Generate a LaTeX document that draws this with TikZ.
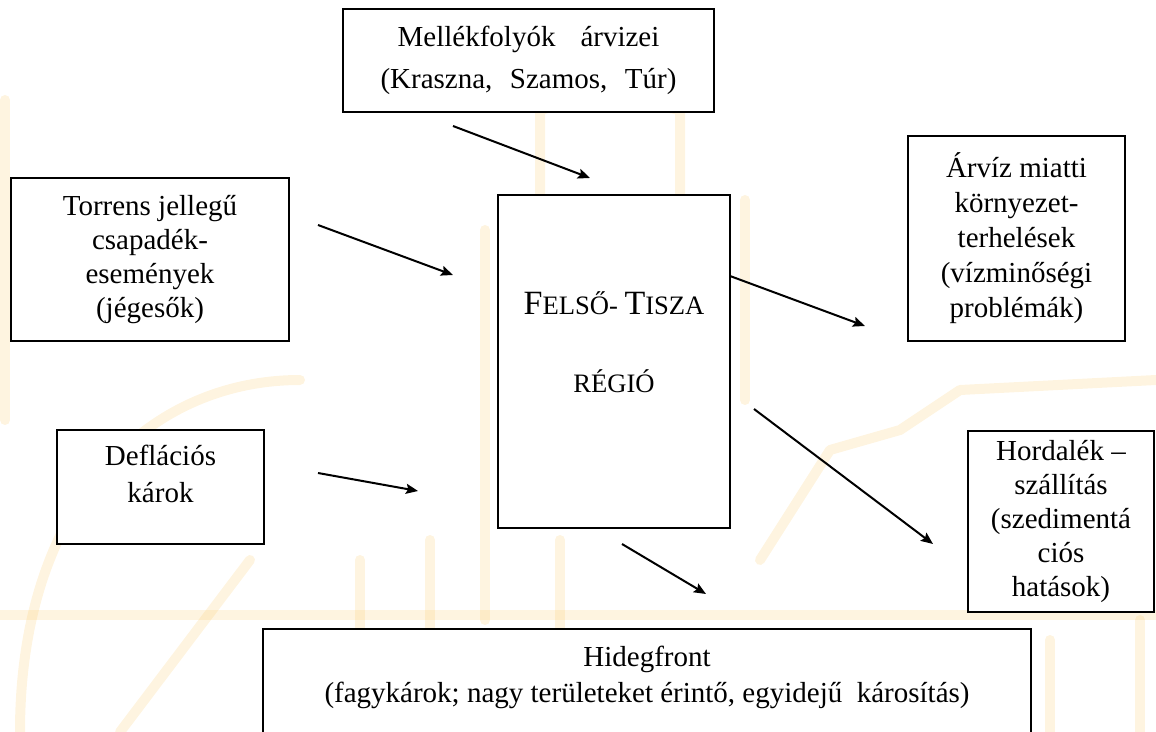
\documentclass[tikz,border=0pt]{standalone}
\usepackage{fontspec}
\setmainfont{Liberation Serif}
\usetikzlibrary{arrows.meta}

\definecolor{vizjel}{RGB}{250,200,100}

\tikzset{
  doboz/.style={draw, line width=0.9pt, fill=white, align=center, inner sep=0pt},
  nyil/.style={line width=1pt, -{Stealth[length=6pt,width=5pt,inset=1pt]}},
  halvany/.style={line width=5pt, draw=vizjel, draw opacity=0.2, line cap=round, line join=round,
    preaction={draw=vizjel, line width=16pt, draw opacity=0.1}}
}

\newcommand{\nagybetu}[1]{{\fontsize{17}{39}\selectfont #1}}

\begin{document}
\begin{tikzpicture}[x=0.5pt, y=-0.5pt]
\useasboundingbox (0,0) rectangle (1156,732);

% faded background picture
\begin{scope}[halvany]
\draw (540,200) -- (540,110) -- (600,95) -- (680,110) -- (680,200);
\draw (485,230) -- (485,620);
\draw (745,200) -- (745,400);
\draw (360,560) -- (360,732);
\draw (430,540) -- (430,630);
\draw (560,540) -- (560,630);
\draw (20,732) .. controls (20,500) and (150,380) .. (300,380);
\draw (120,732) -- (250,560);
\draw (5,100) -- (5,420);
\draw (760,560) -- (830,450) -- (900,430) -- (960,390) -- (1156,380);
\draw (1140,620) -- (1140,732);
\draw (1050,640) -- (1050,732);
\draw (0,615) -- (1156,615);
\end{scope}

% boxes
\node[doboz, minimum width=185.5pt, minimum height=51.5pt, font=\fontsize{14.5}{21}\selectfont]
  (mellek) at (528.5,60.5) {Mellékfolyók\hspace{12.5pt}árvizei\\(Kraszna,\hspace{8.75pt}Szamos,\hspace{8.75pt}Túr)};
\node[doboz, minimum width=139pt, minimum height=81.5pt, font=\fontsize{14.5}{17}\selectfont]
  (torrens) at (150,259.5) {Torrens jellegű\\csapadék-\\események\\(jégesők)};
\node[doboz, minimum width=103.5pt, minimum height=57pt, font=\fontsize{14.5}{18.5}\selectfont]
  (deflacio) at (160.5,487) {Deflációs\\károk\\[-5.5pt]~};
\node[doboz, minimum width=116pt, minimum height=166.5pt, font=\fontsize{13.3}{39}\selectfont]
  (regio) at (614,361.5) {\nagybetu{F}ELSŐ- \nagybetu{T}ISZA\\RÉGIÓ\\[-19.5pt]~};
\node[doboz, minimum width=108.5pt, minimum height=102.5pt, font=\fontsize{14.5}{17.5}\selectfont]
  (arviz) at (1016.5,238.5) {Árvíz miatti\\környezet-\\terhelések\\(vízminőségi\\problémák)};
\node[doboz, minimum width=93pt, minimum height=90.5pt, font=\fontsize{14.5}{17}\selectfont]
  (hordalek) at (1061,521.5) {Hordalék --\\szállítás\\(szedimentá\\ciós\\hatások)};
\node[doboz, minimum width=384pt, minimum height=65.5pt, font=\fontsize{14.5}{18}\selectfont]
  (hideg) at (647,694.5) {Hidegfront\\(fagykárok; nagy területeket érintő, egyidejű\ \ károsítás)\\[2.5pt]~};

% arrow ends
\coordinate (mellek-ki) at (453,126);
\coordinate (mellek-be) at (590,178);
\coordinate (torrens-ki) at (318,225);
\coordinate (torrens-be) at (453,275);
\coordinate (deflacio-ki) at (318,473);
\coordinate (deflacio-be) at (418,491);
\coordinate (arviz-ki) at (730,276);
\coordinate (arviz-be) at (865,326);
\coordinate (hordalek-ki) at (754,409);
\coordinate (hordalek-be) at (933,544);
\coordinate (hideg-ki) at (622,544);
\coordinate (hideg-be) at (706,594);

% arrows
\draw[nyil] (mellek-ki) -- (mellek-be);
\draw[nyil] (torrens-ki) -- (torrens-be);
\draw[nyil] (deflacio-ki) -- (deflacio-be);
\draw[nyil] (arviz-ki) -- (arviz-be);
\draw[nyil] (hordalek-ki) -- (hordalek-be);
\draw[nyil] (hideg-ki) -- (hideg-be);

\end{tikzpicture}
\end{document}
